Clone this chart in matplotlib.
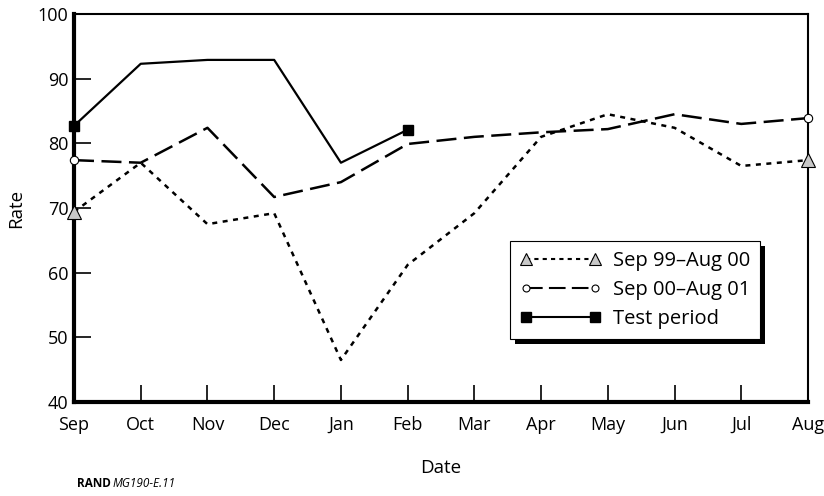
import matplotlib.pyplot as plt
from matplotlib.patches import Rectangle

plt.rcParams["font.family"] = ["Open Sans", "DejaVu Sans"]

# month labels along the x axis
months = ["Sep", "Oct", "Nov", "Dec", "Jan", "Feb", "Mar", "Apr", "May", "Jun", "Jul", "Aug"]

# values
rate_99_00 = [69.4, 77.0, 67.5, 69.2, 46.5, 61.2, 69.2, 81.0, 84.5, 82.4, 76.5, 77.4]
rate_00_01 = [77.4, 77.0, 82.4, 71.7, 74.0, 79.9, 81.0, 81.7, 82.2, 84.5, 83.0, 83.9]
rate_test = [82.7, 92.3, 92.9, 92.9, 77.0, 82.1]

x_all = list(range(len(months)))
x_test = list(range(len(rate_test)))

fig = plt.figure(figsize=(8.24, 4.96), dpi=100)
ax = fig.add_axes([0.0898, 0.1895, 0.8908, 0.7823])

# lines without markers, then markers only at the ends
ax.plot(x_all, rate_99_00, color="black", lw=1.8, dashes=(2, 2.2), clip_on=False)
ax.plot(x_all, rate_00_01, color="black", lw=1.8, dashes=(8, 3), clip_on=False)
ax.plot(x_test, rate_test, color="black", lw=1.6, clip_on=False)

ends = [0, len(months) - 1]
ax.plot(ends, [rate_99_00[i] for i in ends], ls="none", marker="^", ms=10,
        mfc="#c8c8c8", mec="black", mew=0.8, clip_on=False, zorder=5)
ax.plot(ends, [rate_00_01[i] for i in ends], ls="none", marker="o", ms=6,
        mfc="white", mec="black", mew=0.8, clip_on=False, zorder=5)
test_ends = [0, len(rate_test) - 1]
ax.plot(test_ends, [rate_test[i] for i in test_ends], ls="none", marker="s", ms=7,
        mfc="black", mec="black", clip_on=False, zorder=5)

# legend handles with markers at both ends
h1, = ax.plot([], [], color="black", lw=1.5, dashes=(2, 2), marker="^", ms=9,
              mfc="#c8c8c8", mec="black", mew=0.8)
h2, = ax.plot([], [], color="black", lw=1.5, dashes=(8, 3), marker="o", ms=5,
              mfc="white", mec="black", mew=0.8)
h3, = ax.plot([], [], color="black", lw=1.5, marker="s", ms=7, mfc="black", mec="black")

leg = ax.legend([h1, h2, h3], ["Sep 99\u2013Aug 00", "Sep 00\u2013Aug 01", "Test period"],
                loc="lower left", bbox_to_anchor=(0.594, 0.162), borderaxespad=0,
                numpoints=2, handlelength=4.0, fontsize=14.5, fancybox=False,
                edgecolor="black", framealpha=1, labelspacing=0.45,
                borderpad=0.5, handletextpad=0.6)
leg.get_frame().set_linewidth(0.8)
leg.set_zorder(10)

ax.set_xlim(0, len(months) - 1)
ax.set_ylim(40, 100)
ax.set_xticks(x_all)
ax.set_xticklabels(months)
ax.set_yticks([40, 50, 60, 70, 80, 90, 100])
ax.tick_params(direction="in", length=12, width=1.2, labelsize=13, color="black")
ax.tick_params(axis="x", pad=10)
ax.tick_params(axis="y", pad=4)

ax.spines["left"].set_linewidth(3)
ax.spines["bottom"].set_linewidth(3)
ax.spines["top"].set_linewidth(1.5)
ax.spines["right"].set_linewidth(1.5)

ax.set_xlabel("Date", fontsize=13.5, labelpad=18)
ax.set_ylabel("Rate", fontsize=13.5, labelpad=9)

fig.text(0.094, 0.018, "RAND", fontsize=8.5, fontweight="bold")
fig.text(0.137, 0.018, "MG190-E.11", fontsize=8.5, style="italic")

# black drop shadow behind the legend box
fig.canvas.draw()
box = leg.get_window_extent()
shadow = Rectangle((box.x0 + 5, box.y0 - 5), box.width, box.height,
                   transform=None, facecolor="black", edgecolor="none", zorder=9)
ax.add_artist(shadow)

fig.savefig("out.png", dpi=100)
